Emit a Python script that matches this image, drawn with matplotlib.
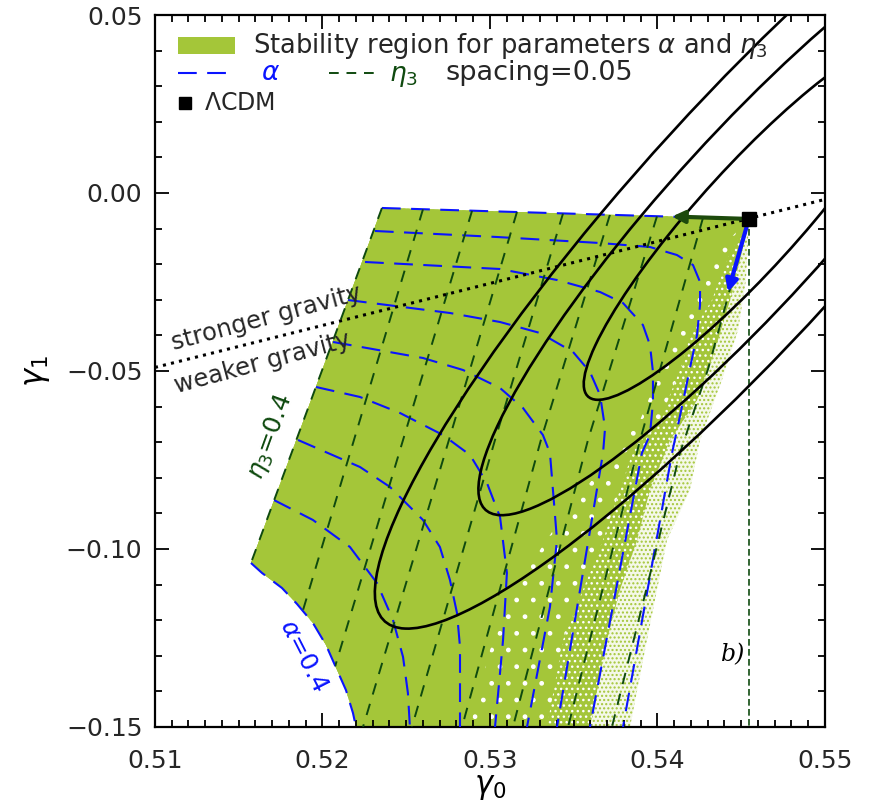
import numpy as np
import matplotlib
matplotlib.use("Agg")
import matplotlib.pyplot as plt
from matplotlib.patches import Ellipse, Polygon, Rectangle
from matplotlib.ticker import MultipleLocator, FuncFormatter

plt.rcParams["font.family"] = ["DejaVu Sans"]
plt.rcParams["mathtext.fontset"] = "dejavusans"
plt.rcParams["hatch.linewidth"] = 1.0

GREEN_FILL = "#a4c639"
GREEN_PALE = "#f4f8e8"
BLUE = "#0a14ff"
DARK_GREEN = "#0f4a0f"
ARROW_GREEN = "#1d4a0c"
TEXT_GREY = "#262626"

# fiducial LCDM growth index parameters
LCDM_G0 = 6 / 11
LCDM_G1 = -15 / 2057

# forecast errors and correlation on (gamma0, gamma1), contour levels in delta chi^2
SIGMA_G0 = 0.0065
SIGMA_G1 = 0.0335
RHO = 0.913
CHI2_LEVELS = [2.30, 6.17, 11.8]

# alpha contours, alpha = 0.00 ... 0.40 (first is the upper edge, last the lower-left edge)
ALPHA_LEVELS = [0.00, 0.05, 0.10, 0.15, 0.20, 0.25, 0.30, 0.35, 0.40]
ALPHA_G0 = [
    [0.52355, 0.54545],
    [0.52313, 0.53042, 0.53657, 0.53955, 0.54116, 0.54212, 0.54254, 0.54254,
     0.54236, 0.54194, 0.54152, 0.54087, 0.53794],
    [0.52254, 0.53060, 0.53400, 0.53657, 0.53794, 0.53913, 0.53955, 0.53973,
     0.53973, 0.53955, 0.53907, 0.53597],
    [0.52152, 0.52761, 0.53060, 0.53299, 0.53496, 0.53597, 0.53657, 0.53687,
     0.53675, 0.53400],
    [0.52063, 0.52600, 0.52839, 0.53060, 0.53197, 0.53316, 0.53358, 0.53400,
     0.53358, 0.53221],
    [0.51961, 0.52224, 0.52463, 0.52719, 0.52881, 0.52982, 0.53060, 0.53101,
     0.53078, 0.53030],
    [0.51854, 0.52224, 0.52403, 0.52600, 0.52701, 0.52761, 0.52803, 0.52821, 0.52821],
    [0.51710, 0.51943, 0.52164, 0.52325, 0.52421, 0.52481, 0.52510, 0.52522],
    [0.51573, 0.51639, 0.51758, 0.51848, 0.51943, 0.52021, 0.52087, 0.52140, 0.52182,
     0.52200],
]
ALPHA_G1 = [
    [-0.00421, LCDM_G1],
    [-0.01067, -0.01236, -0.01405, -0.01517, -0.01742, -0.02023, -0.02500, -0.03146,
     -0.03989, -0.04916, -0.05871, -0.07303, -0.15],
    [-0.01938, -0.02135, -0.02444, -0.02781, -0.03090, -0.03708, -0.04270, -0.05028,
     -0.05871, -0.06798, -0.07303, -0.15],
    [-0.03006, -0.03371, -0.03624, -0.03933, -0.04466, -0.05028, -0.05674, -0.06601,
     -0.07303, -0.15],
    [-0.04185, -0.04635, -0.04972, -0.05478, -0.06039, -0.06798, -0.07303, -0.09747,
     -0.11629, -0.15],
    [-0.05449, -0.05730, -0.06180, -0.06798, -0.07360, -0.08146, -0.09101, -0.10674,
     -0.12556, -0.15],
    [-0.06938, -0.07697, -0.08258, -0.09185, -0.09944, -0.10871, -0.11798, -0.12753, -0.15],
    [-0.08624, -0.09185, -0.09944, -0.10955, -0.11994, -0.13034, -0.14045, -0.15],
    [-0.10393, -0.10674, -0.11095, -0.11545, -0.12079, -0.12697, -0.13399, -0.13961,
     -0.14607, -0.15],
]

# eta3 contours, eta3 = 0.40 ... 0.00 (first is the left edge)
ETA_LEVELS = [0.40, 0.35, 0.30, 0.25, 0.20, 0.15, 0.10, 0.05, 0.00]
ETA_G0 = [
    [0.52355, 0.51573],
    [0.52600, 0.52188, 0.51675],
    [0.52893, 0.52481, 0.51967],
    [0.53161, 0.52755, 0.52242],
    [0.53436, 0.53030, 0.52534],
    [0.53716, 0.53304, 0.52833],
    [0.53997, 0.53585, 0.53137],
    [0.54272, 0.53896, 0.53466],
    [0.54545, 0.54415, 0.54302, 0.54134, 0.53937, 0.53728],
]
ETA_G1 = [
    [-0.00421, -0.10393],
    [-0.00455, -0.06938, -0.15],
    [-0.00497, -0.06938, -0.15],
    [-0.00534, -0.06938, -0.15],
    [-0.00573, -0.06938, -0.15],
    [-0.00612, -0.06938, -0.15],
    [-0.00652, -0.06938, -0.15],
    [-0.00691, -0.06938, -0.15],
    [LCDM_G1, -0.03006, -0.04944, -0.07303, -0.11067, -0.15],
]

# right-hand limits of the sampled stability region, from the dense core outwards
CORE_G0 = [0.54545, 0.54313, 0.54194, 0.54045, 0.53896, 0.53657, 0.53418, 0.53179,
           0.53000, 0.52881]
CORE_G1 = [LCDM_G1, -0.0188, -0.0301, -0.0469, -0.0638, -0.0778, -0.0919, -0.1087,
           -0.1284, -0.15]
SOLID_G0 = [0.54545, 0.54415, 0.54325, 0.54194, 0.54152, 0.54075, 0.53997, 0.53866,
            0.53776, 0.53675, 0.53555, 0.53436, 0.53340]
SOLID_G1 = [LCDM_G1, -0.0188, -0.0301, -0.0399, -0.0475, -0.0567, -0.0660, -0.0708,
            -0.0834, -0.0975, -0.1115, -0.1256, -0.15]
MIXED_G0 = [0.54545, 0.54545, 0.54493, 0.54433, 0.54343, 0.54236, 0.54075, 0.53955,
            0.53878, 0.53776, 0.53698, 0.53597]
MIXED_G1 = [LCDM_G1, -0.0082, -0.0188, -0.0301, -0.0441, -0.0582, -0.0694, -0.0834,
            -0.0975, -0.1115, -0.1256, -0.15]
SPARSE_G0 = [0.54545, 0.54545, 0.54528, 0.54481, 0.54385, 0.54254, 0.54194, 0.54057,
             0.53997, 0.53937, 0.53836]
SPARSE_G1 = [LCDM_G1, -0.0090, -0.0244, -0.0385, -0.0525, -0.0694, -0.0834, -0.0975,
             -0.1115, -0.1256, -0.15]

# G_eff = G line separating stronger and weaker gravity
GRAVITY_G0 = [0.51, 0.55]
GRAVITY_G1 = [-0.0490, -0.0018]

# directions of increasing eta3 and alpha from LCDM
ETA_ARROW_TIP = (0.54087, -0.0066)
ALPHA_ARROW_TIP = (0.54421, -0.0278)


def region_outline(right_g0, right_g1):
    g0 = ALPHA_G0[0][::-1] + ETA_G0[0][1:] + ALPHA_G0[-1][1:] + right_g0[::-1]
    g1 = ALPHA_G1[0][::-1] + ETA_G1[0][1:] + ALPHA_G1[-1][1:] + right_g1[::-1]
    return np.column_stack([g0, g1])


fig = plt.figure(figsize=(8.8, 8.11), dpi=100)
ax = fig.add_axes([0.1761, 0.1036, 0.7614, 0.8779])
ax.set_xlim(0.51, 0.55)
ax.set_ylim(-0.15, 0.05)

# region layers: sparse green dots, white-speckled green, lightly speckled, clean core
sparse = Polygon(region_outline(SPARSE_G0, SPARSE_G1), closed=True, facecolor=GREEN_PALE,
                 edgecolor=GREEN_FILL, hatch="....", lw=0, zorder=1)
mixed = Polygon(region_outline(MIXED_G0, MIXED_G1), closed=True, facecolor=GREEN_FILL,
                edgecolor="white", hatch="...", lw=0, zorder=1.1)
solid = Polygon(region_outline(SOLID_G0, SOLID_G1), closed=True, facecolor=GREEN_FILL,
                edgecolor="white", hatch=".", lw=0, zorder=1.2)
core = Polygon(region_outline(CORE_G0, CORE_G1), closed=True, facecolor=GREEN_FILL,
               lw=0, zorder=1.3)
for p in (sparse, mixed, solid, core):
    ax.add_patch(p)

# interior contours are clipped to the region, the edges are drawn in full
for i, (g0, g1) in enumerate(zip(ALPHA_G0, ALPHA_G1)):
    line, = ax.plot(g0, g1, color=BLUE, lw=1.5, dashes=(9, 5), zorder=3)
    if 0 < i < len(ALPHA_G0) - 1:
        line.set_clip_path(sparse)
for i, (g0, g1) in enumerate(zip(ETA_G0, ETA_G1)):
    line, = ax.plot(g0, g1, color=DARK_GREEN, lw=1.4, dashes=(6, 5), zorder=3)
    if i > 0:
        line.set_clip_path(sparse)

# vertical marker at the LCDM value of gamma0
ax.plot([LCDM_G0, LCDM_G0], [LCDM_G1, -0.15], color=DARK_GREEN, lw=1.2, dashes=(4, 2), zorder=3)

# forecast confidence contours centred on LCDM
cov = np.array([[SIGMA_G0 ** 2, RHO * SIGMA_G0 * SIGMA_G1],
                [RHO * SIGMA_G0 * SIGMA_G1, SIGMA_G1 ** 2]])
vals, vecs = np.linalg.eigh(cov)
angle = np.degrees(np.arctan2(vecs[1, 1], vecs[0, 1]))
for chi2 in CHI2_LEVELS:
    ax.add_patch(Ellipse((LCDM_G0, LCDM_G1), 2 * np.sqrt(chi2 * vals[1]),
                         2 * np.sqrt(chi2 * vals[0]), angle=angle, fill=False,
                         edgecolor="black", lw=1.9, zorder=5))

ax.plot(GRAVITY_G0, GRAVITY_G1, color="black", lw=2.2, ls=(0, (1, 1.7)), zorder=4)
ax.text(0.51665, -0.0352, "stronger gravity", rotation=15, ha="center", va="center",
        fontsize=17.5, color=TEXT_GREY)
ax.text(0.51640, -0.0478, "weaker gravity", rotation=15, ha="center", va="center",
        fontsize=17.5, color=TEXT_GREY)

ax.annotate("", xy=ETA_ARROW_TIP, xytext=(LCDM_G0, LCDM_G1),
            arrowprops=dict(arrowstyle="-|>", color=ARROW_GREEN, lw=3, mutation_scale=18,
                            shrinkA=0, shrinkB=0), zorder=6)
ax.annotate("", xy=ALPHA_ARROW_TIP, xytext=(LCDM_G0, LCDM_G1),
            arrowprops=dict(arrowstyle="-|>", color=BLUE, lw=3, mutation_scale=18,
                            shrinkA=0, shrinkB=0), zorder=6)
ax.plot([LCDM_G0], [LCDM_G1], marker="s", ms=10, color="black", zorder=7)

ax.text(0.5169, -0.0685, r"$\eta_3$=0.4", rotation=70, ha="center", va="center",
        fontsize=18, color=DARK_GREEN)
ax.text(0.5189, -0.1300, r"$\alpha$=0.4", rotation=-63, ha="center", va="center",
        fontsize=18, color=BLUE)
ax.text(0.5445, -0.1298, "b)", fontsize=17, style="italic", family="DejaVu Serif",
        ha="center", va="center", color="black")

# legend drawn by hand in axes fraction
tr = ax.transAxes
ax.add_patch(Rectangle((0.034, 0.945), 0.085, 0.024, transform=tr, facecolor=GREEN_FILL,
                       lw=0, zorder=8))
ax.text(0.146, 0.957, r"Stability region for parameters $\alpha$ and $\eta_3$",
        transform=tr, fontsize=18.5, va="center", color=TEXT_GREY, zorder=8)
ax.plot([0.034, 0.119], [0.919, 0.919], transform=tr, color=BLUE, lw=1.5, dashes=(9, 5),
        zorder=8)
ax.text(0.158, 0.919, r"$\alpha$", transform=tr, fontsize=19, va="center", color=BLUE)
ax.plot([0.259, 0.336], [0.919, 0.919], transform=tr, color=DARK_GREEN, lw=1.4,
        dashes=(5, 4), zorder=8)
ax.text(0.350, 0.914, r"$\eta_3$", transform=tr, fontsize=19, va="center", color=DARK_GREEN)
ax.text(0.434, 0.919, "spacing=0.05", transform=tr, fontsize=19.5, va="center",
        color=TEXT_GREY)
ax.plot([0.045], [0.877], transform=tr, marker="s", ms=9, color="black", zorder=8)
ax.text(0.073, 0.877, r"$\Lambda$CDM", transform=tr, fontsize=17, va="center",
        color=TEXT_GREY)

ax.xaxis.set_major_locator(MultipleLocator(0.01))
ax.xaxis.set_minor_locator(MultipleLocator(0.001))
ax.yaxis.set_major_locator(MultipleLocator(0.05))
ax.yaxis.set_minor_locator(MultipleLocator(0.01))
fmt = FuncFormatter(lambda v, pos: f"{v:.2f}".replace("-", "\u2212"))
ax.xaxis.set_major_formatter(fmt)
ax.yaxis.set_major_formatter(fmt)
ax.tick_params(which="both", direction="in", top=True, right=True, width=1.3,
               labelsize=18, labelcolor=TEXT_GREY)
ax.tick_params(which="major", length=10, pad=9)
ax.tick_params(which="minor", length=5)
ax.tick_params(axis="x", which="major", pad=16)
for s in ax.spines.values():
    s.set_linewidth(1.6)

ax.set_xlabel(r"$\gamma_0$", fontsize=22, labelpad=0)
ax.set_ylabel(r"$\gamma_1$", fontsize=22, labelpad=10)

fig.savefig("out.png", dpi=100)
